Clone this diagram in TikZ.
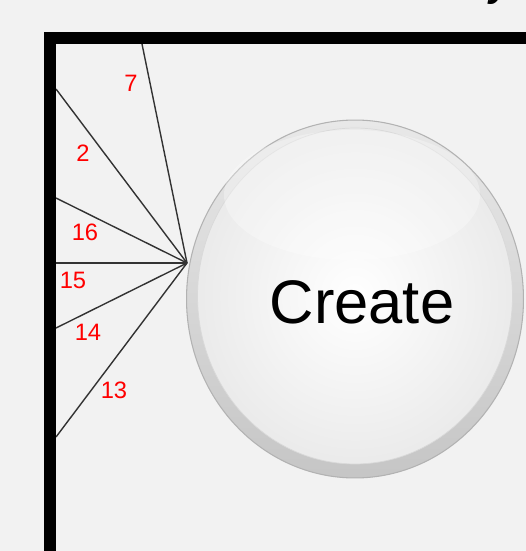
\documentclass[tikz,border=0pt]{standalone}
\usepackage{fontspec}
\setmainfont{Liberation Sans}
\usepackage{xcolor}
\usepackage{tikz}
\usetikzlibrary{shapes.geometric}
\definecolor{bgfill}{HTML}{F2F2F2}
\definecolor{raygray}{HTML}{333333}

\begin{document}
\begin{tikzpicture}[
    x=0.02cm,y=-0.02cm,
    frame/.style={draw=black, line width=6.8pt},
    ray/.style={draw=raygray, line width=0.8pt},
    num/.style={text=red, font=\fontsize{13.5}{16}\selectfont, inner sep=0pt},
    ring/.style={ellipse, minimum width=6.74cm, minimum height=7.16cm, inner sep=0pt, draw=gray!60, line width=0.6pt, top color=gray!18, bottom color=gray!45},
    face/.style={ellipse, minimum width=6.3cm, minimum height=6.72cm, inner sep=0pt, draw=gray!30, line width=0.4pt, inner color=white, outer color=gray!16},
    lab/.style={font=\fontsize{35}{40}\selectfont, inner sep=0pt}
  ]
    \useasboundingbox[fill=bgfill] (0,0) rectangle (526,551);
    \node[font=\fontsize{22}{22}\selectfont\bfseries\itshape, anchor=base] (ttl) at (500,-4) {y};

    \node[ring] (btn) at (355,299) {};
    \node[face] (btnface) at (355,296) {};
    \fill[white, opacity=0.3] (352,195) ellipse (128 and 65);
    \node[lab] (btntext) at (362,302) {Create};

    \coordinate (hub) at (187,263);
    \coordinate (e7) at (142,44);
    \coordinate (e2) at (56,89);
    \coordinate (e16) at (56,198);
    \coordinate (e15) at (56,263);
    \coordinate (e14) at (56,328);
    \coordinate (e13) at (56,437);
    \draw[ray] (hub) -- (e7);
    \draw[ray] (hub) -- (e2);
    \draw[ray] (hub) -- (e16);
    \draw[ray] (hub) -- (e15);
    \draw[ray] (hub) -- (e14);
    \draw[ray] (hub) -- (e13);

    \node[num] (n7) at (131,83) {7};
    \node[num] (n2) at (83,153) {2};
    \node[num] (n16) at (85,232) {16};
    \node[num] (n15) at (73,280) {15};
    \node[num] (n14) at (88,332) {14};
    \node[num] (n13) at (114,390) {13};

    \draw[frame] (50,570) -- (50,38) -- (560,38);
  \end{tikzpicture}
\end{document}
